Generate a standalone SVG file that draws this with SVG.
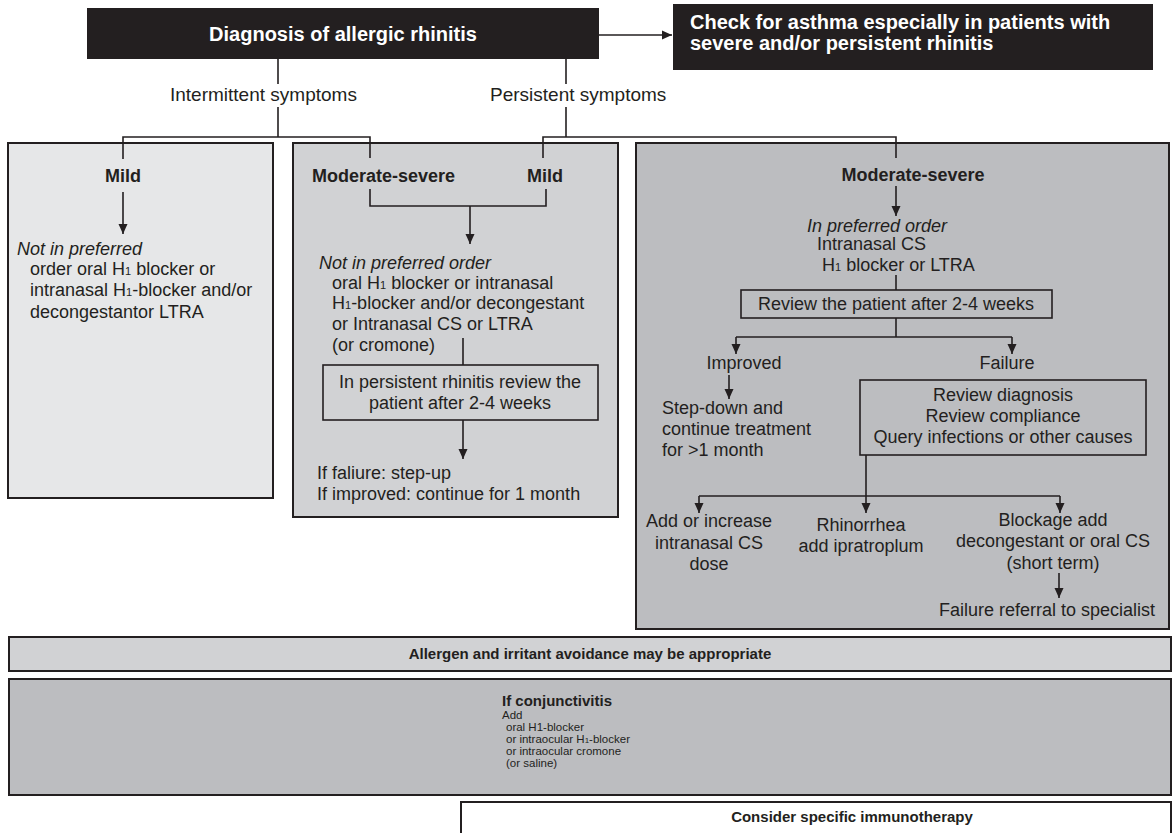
<svg xmlns="http://www.w3.org/2000/svg" width="1173" height="833" viewBox="0 0 1173 833">
<defs>
<style>
.t{font-family:"Liberation Sans",Arial,Helvetica,sans-serif;fill:#231f20}
.w{fill:#ffffff}
.b{font-weight:bold}
.i{font-style:italic}
.m{text-anchor:middle}
.s19{font-size:19px}
.s18{font-size:18px}
.s20{font-size:20px}
.ln{stroke:#231f20;stroke-width:1.6;fill:none}
.bx{stroke:#231f20;stroke-width:2}
.ibx{fill:none;stroke:#231f20;stroke-width:1.6}
.sub{font-size:11px}
.c{font-size:11.5px}
</style>
<marker id="ah" markerWidth="10" markerHeight="10" refX="10" refY="5" orient="auto" markerUnits="userSpaceOnUse">
<path d="M0,0.5 L10,5 L0,9.5 z" fill="#231f20"/>
</marker>
</defs>
<rect width="1173" height="833" fill="#ffffff"/>

<g id="panel-left">
<rect class="bx" x="8" y="143" width="265" height="355" fill="#e6e7e8"/>
<text class="t b s18 m" x="123" y="182">Mild</text>
<text class="t s18 i" x="17" y="255">Not in preferred</text>
<text class="t s18" x="30" y="275">order oral H<tspan class="sub">1</tspan> blocker or</text>
<text class="t s18" x="30" y="296">intranasal H<tspan class="sub">1</tspan>-blocker and/or</text>
<text class="t s18" x="30" y="318">decongestantor LTRA</text>
</g>

<g id="panel-middle">
<rect class="bx" x="293" y="143" width="325" height="374" fill="#d1d2d4"/>
<text class="t b s18" x="312" y="182">Moderate-severe</text>
<text class="t b s18 m" x="545" y="182">Mild</text>
<text class="t s18 i" x="319" y="269">Not in preferred order</text>
<text class="t s18" x="332" y="289">oral H<tspan class="sub">1</tspan> blocker or intranasal</text>
<text class="t s18" x="332" y="309">H<tspan class="sub">1</tspan>-blocker and/or decongestant</text>
<text class="t s18" x="332" y="330">or Intranasal CS or LTRA</text>
<text class="t s18" x="332" y="351">(or cromone)</text>
<rect class="ibx" x="323" y="365" width="275" height="55"/>
<text class="t s18 m" x="460" y="388">In persistent rhinitis review the</text>
<text class="t s18 m" x="460" y="409">patient after 2-4 weeks</text>
<text class="t s18" x="317" y="479">If faliure: step-up</text>
<text class="t s18" x="317" y="500">If improved: continue for 1 month</text>
</g>

<g id="panel-right">
<rect class="bx" x="636" y="143" width="533" height="486" fill="#bcbdc0"/>
<text class="t b s18 m" x="913" y="181">Moderate-severe</text>
<text class="t s18 i" x="807" y="232">In preferred order</text>
<text class="t s18" x="817" y="250">Intranasal CS</text>
<text class="t s18" x="822" y="271">H<tspan class="sub">1</tspan> blocker or LTRA</text>
<rect class="ibx" x="741" y="290" width="311" height="28"/>
<text class="t s18 m" x="896" y="310">Review the patient after 2-4 weeks</text>
<text class="t s18 m" x="744" y="369">Improved</text>
<text class="t s18 m" x="1007" y="369">Failure</text>
<text class="t s18" x="662" y="414">Step-down and</text>
<text class="t s18" x="662" y="435">continue treatment</text>
<text class="t s18" x="662" y="456">for &gt;1 month</text>
<rect class="ibx" x="860" y="380" width="286" height="75"/>
<text class="t s18 m" x="1003" y="401">Review diagnosis</text>
<text class="t s18 m" x="1003" y="422">Review compliance</text>
<text class="t s18 m" x="1003" y="443">Query infections or other causes</text>
<text class="t s18 m" x="709" y="527">Add or increase</text>
<text class="t s18 m" x="709" y="549">intranasal CS</text>
<text class="t s18 m" x="709" y="570">dose</text>
<text class="t s18 m" x="861" y="531">Rhinorrhea</text>
<text class="t s18 m" x="861" y="552">add ipratroplum</text>
<text class="t s18 m" x="1053" y="526">Blockage add</text>
<text class="t s18 m" x="1053" y="547">decongestant or oral CS</text>
<text class="t s18 m" x="1053" y="569">(short term)</text>
<text class="t s18 m" x="1047" y="616">Failure referral to specialist</text>
</g>

<g id="node-diagnosis">
<rect x="87" y="8" width="512" height="51" fill="#231f20"/>
<text class="t w b s20 m" x="343" y="41">Diagnosis of allergic rhinitis</text>
</g>

<g id="node-asthma">
<rect x="673" y="4" width="480" height="66" fill="#231f20"/>
<text class="t w b s20" x="690" y="29">Check for asthma especially in patients with</text>
<text class="t w b s20" x="690" y="50">severe and/or persistent rhinitis</text>
</g>

<g id="labels-symptoms">
<text class="t s19" x="170" y="101">Intermittent symptoms</text>
<text class="t s19" x="490" y="101">Persistent symptoms</text>
</g>

<g id="node-allergen">
<rect class="bx" x="9" y="637" width="1162" height="34" fill="#d1d2d4"/>
<text class="t b m" font-size="15" x="590" y="659">Allergen and irritant avoidance may be appropriate</text>
</g>

<g id="node-conjunctivitis">
<rect class="bx" x="9" y="679" width="1162" height="116" fill="#bcbdc0"/>
<text class="t b" font-size="15" x="502" y="706">If conjunctivitis</text>
<text class="t c" x="502" y="719">Add</text>
<text class="t c" x="506" y="731">oral H1-blocker</text>
<text class="t c" x="506" y="743">or intraocular H<tspan font-size="8">1</tspan>-blocker</text>
<text class="t c" x="506" y="755">or intraocular cromone</text>
<text class="t c" x="506" y="767">(or saline)</text>
</g>

<g id="node-immunotherapy">
<path d="M461,840 L461,802 L1171,802 L1171,840" fill="#ffffff" stroke="#231f20" stroke-width="2"/>
<text class="t b m" font-size="15" x="852" y="822">Consider specific immunotherapy</text>
</g>

<g id="connectors">
<line class="ln" x1="599" y1="35" x2="672" y2="35" marker-end="url(#ah)"/>
<line class="ln" x1="278" y1="59" x2="278" y2="84"/>
<line class="ln" x1="278" y1="107" x2="278" y2="137"/>
<polyline class="ln" points="123,159 123,137 370,137 370,158"/>
<line class="ln" x1="566" y1="59" x2="566" y2="84"/>
<line class="ln" x1="566" y1="107" x2="566" y2="137"/>
<polyline class="ln" points="543,158 543,137 896,137 896,158"/>
<line class="ln" x1="123" y1="192" x2="123" y2="234" marker-end="url(#ah)"/>
<polyline class="ln" points="370,189 370,206 546,206 546,189"/>
<line class="ln" x1="470" y1="206" x2="470" y2="244" marker-end="url(#ah)"/>
<line class="ln" x1="463" y1="338" x2="463" y2="365"/>
<line class="ln" x1="463" y1="420" x2="463" y2="459" marker-end="url(#ah)"/>
<line class="ln" x1="896" y1="186" x2="896" y2="216" marker-end="url(#ah)"/>
<line class="ln" x1="896" y1="275" x2="896" y2="290"/>
<line class="ln" x1="896" y1="318" x2="896" y2="337"/>
<line class="ln" x1="736" y1="337" x2="1012" y2="337"/>
<line class="ln" x1="736" y1="337" x2="736" y2="354" marker-end="url(#ah)"/>
<line class="ln" x1="1012" y1="337" x2="1012" y2="354" marker-end="url(#ah)"/>
<line class="ln" x1="729" y1="375" x2="729" y2="399" marker-end="url(#ah)"/>
<line class="ln" x1="866" y1="455" x2="866" y2="496"/>
<line class="ln" x1="699" y1="496" x2="1060" y2="496"/>
<line class="ln" x1="699" y1="496" x2="699" y2="513" marker-end="url(#ah)"/>
<line class="ln" x1="866" y1="496" x2="866" y2="513" marker-end="url(#ah)"/>
<line class="ln" x1="1060" y1="496" x2="1060" y2="513" marker-end="url(#ah)"/>
<line class="ln" x1="1059" y1="573" x2="1059" y2="598" marker-end="url(#ah)"/>
</g>
</svg>
